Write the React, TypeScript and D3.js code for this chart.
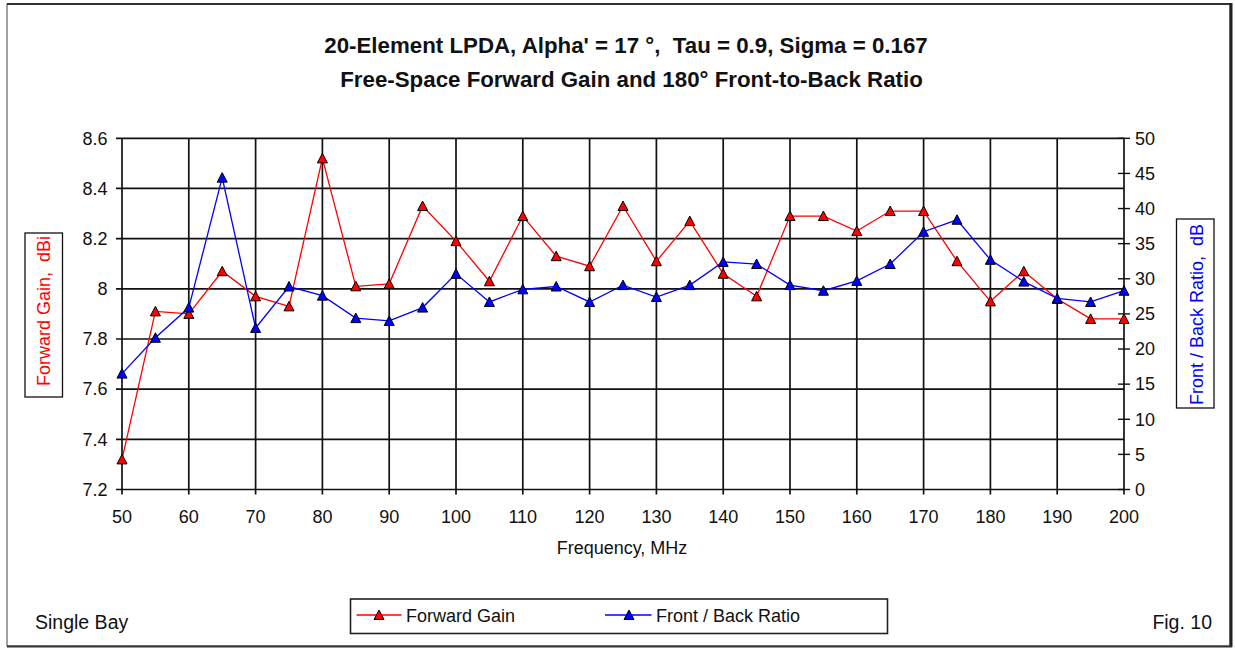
import React from "react";
import * as d3 from "d3";

const freqs = [50,55,60,65,70,75,80,85,90,95,100,105,110,115,120,125,130,135,140,145,150,155,160,165,170,175,180,185,190,195,200];
const forwardGain = [7.32,7.91,7.90,8.07,7.97,7.93,8.52,8.01,8.02,8.33,8.19,8.03,8.29,8.13,8.09,8.33,8.11,8.27,8.06,7.97,8.29,8.29,8.23,8.31,8.31,8.11,7.95,8.07,7.96,7.88,7.88];
const frontBack = [16.5,21.6,25.9,44.4,23.0,28.9,27.6,24.4,24.0,25.9,30.7,26.7,28.5,28.9,26.7,29.1,27.4,29.1,32.4,32.1,29.1,28.3,29.7,32.1,36.7,38.4,32.7,29.6,27.2,26.7,28.3];
const xTicks = [50,60,70,80,90,100,110,120,130,140,150,160,170,180,190,200];
const leftTicks = [7.2,7.4,7.6,7.8,8,8.2,8.4,8.6];
const rightTicks = [0,5,10,15,20,25,30,35,40,45,50];
const titleLine1 = "20-Element LPDA, Alpha' = 17 °,  Tau = 0.9, Sigma = 0.167";
const titleLine2 = "Free-Space Forward Gain and 180° Front-to-Back Ratio";

const FONT = "'Liberation Sans', Arial, sans-serif";

function Tri({ x, y, fill }: { x: number; y: number; fill: string }) {
  const s = 5;
  return (
    <path
      d={`M${x},${y - s} L${x + s},${y + s - 0.5} L${x - s},${y + s - 0.5} Z`}
      fill={fill}
      stroke="#000"
      strokeWidth={1}
    />
  );
}

export default function App() {
  const W = 1235, H = 649;
  const x = d3.scaleLinear().domain([50, 200]).range([122, 1124]);
  const yL = d3.scaleLinear().domain([7.2, 8.6]).range([489.5, 138.3]);
  const yR = d3.scaleLinear().domain([0, 50]).range([489.5, 138.3]);

  const gainLine = d3.line<number>().x((_, i) => x(freqs[i])).y((d) => yL(d))(forwardGain) || "";
  const fbLine = d3.line<number>().x((_, i) => x(freqs[i])).y((d) => yR(d))(frontBack) || "";

  const x0 = x(50), x1 = x(200), yTop = yL(8.6), yBot = yL(7.2);
  const grid = "#111";

  return (
    <svg width={W} height={H} style={{ position: "absolute", left: 0, top: 0, background: "#fff" }} fontFamily={FONT}>
      <rect x={0} y={0} width={W} height={H} fill="#fff" />
      {/* frame */}
      <rect x={7} y={4} width={1223} height={642} fill="none" stroke="#444" strokeWidth={1} />
      <line x1={7} y1={4} x2={1231} y2={4} stroke="#333" strokeWidth={2} />
      <line x1={1231} y1={3} x2={1231} y2={647} stroke="#222" strokeWidth={3} />
      <line x1={7} y1={646.5} x2={1232} y2={646.5} stroke="#333" strokeWidth={2} />

      {/* title */}
      <text x={626} y={53} textAnchor="middle" fontSize={22.3} fontWeight="bold" fill="#111" style={{ whiteSpace: "pre" }}>{titleLine1}</text>
      <text x={631.5} y={86.5} textAnchor="middle" fontSize={22.3} fontWeight="bold" fill="#111">{titleLine2}</text>

      {/* grid */}
      {xTicks.map((t) => (
        <line key={"vx" + t} x1={x(t)} y1={yTop} x2={x(t)} y2={yBot + 5} stroke={grid} strokeWidth={1.7} />
      ))}
      {leftTicks.map((t) => (
        <line key={"hy" + t} x1={x0 - 6} y1={yL(t)} x2={x1} y2={yL(t)} stroke={grid} strokeWidth={1.7} />
      ))}
      {/* right axis ticks */}
      {rightTicks.map((t) => (
        <line key={"rt" + t} x1={x1 - 6} y1={yR(t)} x2={x1 + 6} y2={yR(t)} stroke={grid} strokeWidth={1.4} />
      ))}

      {/* left labels */}
      {leftTicks.map((t) => (
        <text key={"ll" + t} x={107.5} y={yL(t) + 6.3} textAnchor="end" fontSize={18} fill="#111">{d3.format("~g")(t)}</text>
      ))}
      {rightTicks.map((t) => (
        <text key={"rl" + t} x={1135} y={yR(t) + 6.3} textAnchor="start" fontSize={18} fill="#111">{t}</text>
      ))}
      {xTicks.map((t) => (
        <text key={"xl" + t} x={x(t)} y={522.5} textAnchor="middle" fontSize={18} fill="#111">{t}</text>
      ))}
      <text x={622} y={554} textAnchor="middle" fontSize={18} fill="#111">Frequency, MHz</text>

      {/* axis titles */}
      <rect x={25} y={233} width={37.5} height={164} fill="#fff" stroke="#111" strokeWidth={1.3} />
      <text transform="translate(50,311) rotate(-90)" textAnchor="middle" fontSize={18} fill="#ff0000" style={{ whiteSpace: "pre" }}>Forward Gain,  dBi</text>
      <rect x={1176.5} y={219} width={37.5} height={189} fill="#fff" stroke="#111" strokeWidth={1.3} />
      <text transform="translate(1202.5,405) rotate(-90)" textAnchor="start" fontSize={18} fill="#0000ff" style={{ whiteSpace: "pre" }}>Front / Back Ratio,  dB</text>

      {/* series */}
      <path d={gainLine} fill="none" stroke="#ff0000" strokeWidth={1.3} />
      <path d={fbLine} fill="none" stroke="#0000ff" strokeWidth={1.3} />
      {forwardGain.map((v, i) => (
        <Tri key={"g" + i} x={x(freqs[i])} y={yL(v)} fill="#ff0000" />
      ))}
      {frontBack.map((v, i) => (
        <Tri key={"f" + i} x={x(freqs[i])} y={yR(v)} fill="#0000ff" />
      ))}

      {/* legend */}
      <rect x={350.5} y={599} width={537} height={34.5} fill="#fff" stroke="#222" strokeWidth={1.6} />
      <line x1={356.5} y1={615} x2={401.5} y2={615} stroke="#ff0000" strokeWidth={1.5} />
      <Tri x={379} y={615} fill="#ff0000" />
      <text x={406} y={621.5} fontSize={18} fill="#111">Forward Gain</text>
      <line x1={605} y1={615} x2={651.5} y2={615} stroke="#0000ff" strokeWidth={1.5} />
      <Tri x={629} y={615} fill="#0000ff" />
      <text x={656} y={621.5} fontSize={18} fill="#111">Front / Back Ratio</text>

      <text x={35} y={629} fontSize={19.5} fill="#111">Single Bay</text>
      <text x={1212} y={629} textAnchor="end" fontSize={19.5} fill="#111">Fig. 10</text>
    </svg>
  );
}
